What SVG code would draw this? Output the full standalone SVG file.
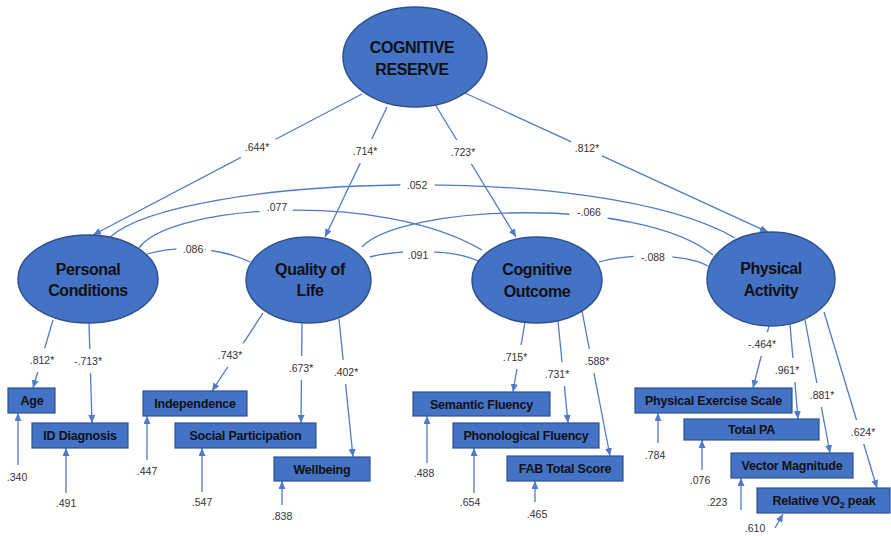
<svg xmlns="http://www.w3.org/2000/svg" width="891" height="536" viewBox="0 0 891 536">
<defs>
<marker id="ah" markerUnits="userSpaceOnUse" markerWidth="8" markerHeight="7" refX="8" refY="3.5" orient="auto">
<path d="M0,0 L8,3.5 L0,7 z" fill="#4F7BC8"/>
</marker>
<style>
.lat{fill:#4472C4;stroke:#2F528F;stroke-width:1.5}
.box{fill:#4472C4;stroke:#2F528F;stroke-width:1.2}
.lt{font-family:"Liberation Sans",Arial,sans-serif;font-weight:bold;font-size:16px;fill:#111;text-anchor:middle;letter-spacing:-0.4px}
.bt{font-family:"Liberation Sans",Arial,sans-serif;font-weight:bold;font-size:12.5px;fill:#111;text-anchor:middle;letter-spacing:-0.2px}
.ln{fill:none;stroke:#4F7BC8;stroke-width:1.3}
.ar{fill:none;stroke:#4F7BC8;stroke-width:1.3;marker-end:url(#ah)}
.lb{font-family:"Liberation Sans",Arial,sans-serif;font-size:10.5px;fill:#333;text-anchor:middle;stroke:#fff;stroke-width:16;stroke-linejoin:round;paint-order:stroke}
.el{font-family:"Liberation Sans",Arial,sans-serif;font-size:10.5px;fill:#333;text-anchor:middle}
</style>
</defs>
<rect width="891" height="536" fill="#fff"/>
<g id="connectors">
<path class="ar" d="M362,94 L93,235"/>
<path class="ar" d="M387,107 L325,237"/>
<path class="ar" d="M436,106 L516,237"/>
<path class="ar" d="M465,93 L768,232"/>
<path class="ln" d="M110,237 C180,175 600,160 735,238"/>
<path class="ln" d="M139,248 C170,205 380,190 482,250"/>
<path class="ln" d="M362,247 C400,205 640,195 713,255"/>
<path class="ln" d="M147,254 C170,247 215,245 250,262"/>
<path class="ln" d="M370,257 C395,250 455,248 480,262"/>
<path class="ln" d="M599,262 C625,254 685,253 708,266"/>
<path class="ar" d="M53,320 L33,388"/>
<path class="ar" d="M89,323 L92,423"/>
<path class="ar" d="M263,313 L212,391"/>
<path class="ar" d="M302,323 L301,423"/>
<path class="ar" d="M339,319 L353,457"/>
<path class="ar" d="M525,322 L513,392"/>
<path class="ar" d="M558,321 L568,423"/>
<path class="ar" d="M582,311 L610,456"/>
<path class="ar" d="M769,326 L753,388"/>
<path class="ar" d="M790,324 L798,419"/>
<path class="ar" d="M805,320 L830,453"/>
<path class="ar" d="M824,312 L877,488"/>
<path class="ar" d="M18,465 L18,413"/>
<path class="ar" d="M66,493 L66,448"/>
<path class="ar" d="M147,460 L147,416"/>
<path class="ar" d="M202,492 L202,448"/>
<path class="ar" d="M282,505 L282,481"/>
<path class="ar" d="M427,463 L427,416"/>
<path class="ar" d="M474,493 L474,448"/>
<path class="ar" d="M535,502 L535,481"/>
<path class="ar" d="M658,443 L658,413"/>
<path class="ar" d="M702,470 L702,440"/>
<path class="ar" d="M741,510 L741,478"/>
<path class="ar" d="M775,528 L783,514"/>
<text class="lb" x="257" y="151">.644*</text>
<text class="lb" x="365" y="155">.714*</text>
<text class="lb" x="463" y="156">.723*</text>
<text class="lb" x="587" y="152">.812*</text>
<text class="lb" x="417" y="189">.052</text>
<text class="lb" x="277" y="211">.077</text>
<text class="lb" x="589" y="216">-.066</text>
<text class="lb" x="193" y="253">.086</text>
<text class="lb" x="418" y="259">.091</text>
<text class="lb" x="653" y="261">-.088</text>
<text class="lb" x="42" y="364">.812*</text>
<text class="lb" x="88" y="365">-.713*</text>
<text class="lb" x="230" y="359">.743*</text>
<text class="lb" x="301" y="372">.673*</text>
<text class="lb" x="346" y="376">.402*</text>
<text class="lb" x="515" y="361">.715*</text>
<text class="lb" x="557" y="378">.731*</text>
<text class="lb" x="597" y="365">.588*</text>
<text class="lb" x="762" y="348">-.464*</text>
<text class="lb" x="787" y="374">.961*</text>
<text class="lb" x="822" y="399">.881*</text>
<text class="lb" x="863" y="436">.624*</text>
<text class="el" x="17" y="481">.340</text>
<text class="el" x="66" y="507">.491</text>
<text class="el" x="147" y="475">.447</text>
<text class="el" x="202" y="506">.547</text>
<text class="el" x="282" y="520">.838</text>
<text class="el" x="424" y="477">.488</text>
<text class="el" x="470" y="506">.654</text>
<text class="el" x="537" y="518">.465</text>
<text class="el" x="655" y="459">.784</text>
<text class="el" x="700" y="484">.076</text>
<text class="el" x="717" y="506">.223</text>
<text class="el" x="755" y="532">.610</text>
</g>
<g id="cognitive-reserve">
<ellipse class="lat" cx="415" cy="57" rx="72" ry="50"/>
<text class="lt" x="412" y="53">COGNITIVE</text>
<text class="lt" x="412" y="75">RESERVE</text>
</g>
<g id="personal-conditions">
<ellipse class="lat" cx="88" cy="279" rx="70" ry="44"/>
<text class="lt" x="88" y="275">Personal</text>
<text class="lt" x="88" y="296">Conditions</text>
</g>
<g id="quality-of-life">
<ellipse class="lat" cx="308.5" cy="280" rx="62.5" ry="43"/>
<text class="lt" x="310" y="275">Quality of</text>
<text class="lt" x="310" y="296">Life</text>
</g>
<g id="cognitive-outcome">
<ellipse class="lat" cx="537" cy="280" rx="65" ry="43"/>
<text class="lt" x="537" y="275">Cognitive</text>
<text class="lt" x="537" y="297">Outcome</text>
</g>
<g id="physical-activity">
<ellipse class="lat" cx="771" cy="279" rx="64" ry="47"/>
<text class="lt" x="771" y="274">Physical</text>
<text class="lt" x="771" y="296">Activity</text>
</g>
<g id="age"><rect class="box" x="8" y="388" width="47" height="25"/><text class="bt" x="32" y="405">Age</text></g>
<g id="id-diagnosis"><rect class="box" x="32" y="423" width="96" height="25"/><text class="bt" x="80" y="440">ID Diagnosis</text></g>
<g id="independence"><rect class="box" x="143" y="391" width="104" height="25"/><text class="bt" x="195" y="408">Independence</text></g>
<g id="social-participation"><rect class="box" x="175" y="423" width="141" height="25"/><text class="bt" x="245.5" y="440">Social Participation</text></g>
<g id="wellbeing"><rect class="box" x="274" y="457" width="96" height="24"/><text class="bt" x="322" y="474">Wellbeing</text></g>
<g id="semantic-fluency"><rect class="box" x="413" y="392" width="137" height="24"/><text class="bt" x="481.5" y="408.5">Semantic Fluency</text></g>
<g id="phonological-fluency"><rect class="box" x="453" y="423" width="146" height="25"/><text class="bt" x="526" y="440">Phonological Fluency</text></g>
<g id="fab-total-score"><rect class="box" x="507" y="456" width="116" height="25"/><text class="bt" x="565" y="473">FAB Total Score</text></g>
<g id="physical-exercise-scale"><rect class="box" x="635" y="388" width="157" height="25"/><text class="bt" x="713.5" y="405">Physical Exercise Scale</text></g>
<g id="total-pa"><rect class="box" x="684" y="419" width="135" height="21"/><text class="bt" x="751.5" y="434">Total PA</text></g>
<g id="vector-magnitude"><rect class="box" x="731" y="453" width="122" height="25"/><text class="bt" x="792" y="470">Vector Magnitude</text></g>
<g id="relative-vo2-peak"><rect class="box" x="757" y="488" width="133" height="25"/><text class="bt" x="824" y="505">Relative VO<tspan font-size="9" dy="3">2</tspan><tspan dy="-3"> peak</tspan></text></g>
</svg>
